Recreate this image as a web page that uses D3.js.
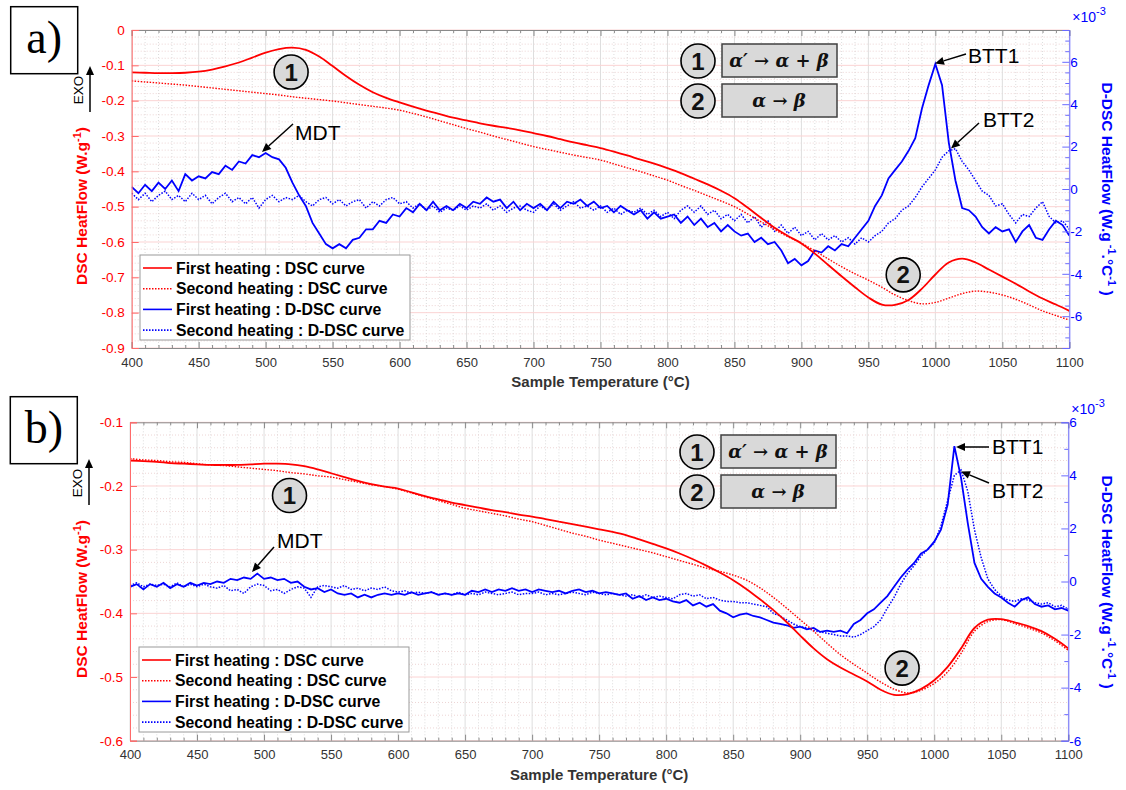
<!DOCTYPE html>
<html><head><meta charset="utf-8">
<script src="https://cdn.jsdelivr.net/npm/d3@7"></script>
<style>
body{margin:0;background:#fff}
svg{display:block}
text{font-family:"Liberation Sans",Arial,sans-serif}
</style>
</head><body>
<svg id="c" width="1126" height="790"></svg>
<script>
// ---------------- DATA ----------------
const xTicks = [400,450,500,550,600,650,700,750,800,850,900,950,1000,1050,1100];
const xTickLabels = ["400","450","500","550","600","650","700","750","800","850","900","950","1000","1050","1100"];

const leftTicksA = [0,-0.1,-0.2,-0.3,-0.4,-0.5,-0.6,-0.7,-0.8,-0.9];
const leftTickLabelsA = ["0","-0.1","-0.2","-0.3","-0.4","-0.5","-0.6","-0.7","-0.8","-0.9"];
const rightTicksA = [-6,-4,-2,0,2,4,6];
const rightTickLabelsA = ["-6","-4","-2","0","2","4","6"];

const leftTicksB = [-0.1,-0.2,-0.3,-0.4,-0.5,-0.6];
const leftTickLabelsB = ["-0.1","-0.2","-0.3","-0.4","-0.5","-0.6"];
const rightTicksB = [-6,-4,-2,0,2,4,6];
const rightTickLabelsB = ["-6","-4","-2","0","2","4","6"];

const legendLabels = ["First heating : DSC curve","Second heating : DSC curve","First heating : D-DSC curve","Second heating : D-DSC curve"];

// temperature grids (°C)
const dscTemps = d3.range(400, 1101, 10);   // 71 points
const ddscTemps = d3.range(400, 1101, 5);   // 141 points

// Panel a) DSC (W/g)
const dscFirstA = [-0.120,-0.121,-0.122,-0.122,-0.121,-0.118,-0.112,-0.103,-0.092,-0.078,
 -0.064,-0.054,-0.050,-0.056,-0.075,-0.102,-0.130,-0.155,-0.176,-0.192,
 -0.205,-0.217,-0.228,-0.238,-0.248,-0.256,-0.264,-0.271,-0.277,-0.284,
 -0.292,-0.300,-0.309,-0.318,-0.326,-0.334,-0.344,-0.355,-0.367,-0.378,
 -0.391,-0.405,-0.421,-0.437,-0.455,-0.476,-0.503,-0.532,-0.560,-0.583,
 -0.604,-0.633,-0.665,-0.697,-0.728,-0.757,-0.777,-0.778,-0.764,-0.732,
 -0.692,-0.658,-0.647,-0.658,-0.678,-0.698,-0.718,-0.740,-0.760,-0.777,-0.795];
const dscSecondA = [-0.144,-0.147,-0.150,-0.153,-0.156,-0.160,-0.164,-0.168,-0.172,-0.176,
 -0.180,-0.184,-0.189,-0.193,-0.197,-0.201,-0.206,-0.211,-0.216,-0.221,
 -0.227,-0.236,-0.246,-0.257,-0.268,-0.279,-0.289,-0.300,-0.310,-0.320,
 -0.330,-0.338,-0.346,-0.354,-0.361,-0.368,-0.379,-0.390,-0.401,-0.413,
 -0.425,-0.440,-0.454,-0.469,-0.484,-0.500,-0.521,-0.543,-0.565,-0.585,
 -0.603,-0.625,-0.648,-0.670,-0.690,-0.708,-0.728,-0.750,-0.766,-0.775,
 -0.771,-0.759,-0.746,-0.739,-0.742,-0.750,-0.762,-0.778,-0.795,-0.808,-0.821];

// Panel a) D-DSC (x1e-3 W/g/°C)
const ddscFirstA = [0.1,-0.2,0.2,-0.1,0.3,0.0,0.4,-0.1,0.7,0.4,
 0.6,0.5,0.8,0.7,1.1,0.9,1.3,1.2,1.6,1.5,
 1.7,1.5,1.4,1.0,0.3,-0.3,-0.8,-1.6,-2.1,-2.6,
 -2.8,-2.6,-2.8,-2.4,-2.3,-1.9,-1.9,-1.5,-1.6,-1.2,
 -1.3,-0.9,-1.1,-0.7,-1.0,-0.6,-1.0,-0.8,-1.0,-0.7,
 -0.9,-0.6,-0.7,-0.4,-0.6,-0.5,-0.9,-0.6,-1.0,-0.7,
 -0.9,-0.7,-1.0,-0.6,-0.9,-0.6,-0.7,-0.5,-0.8,-0.6,
 -0.9,-0.8,-1.1,-0.8,-1.0,-1.2,-1.0,-1.4,-1.1,-1.4,
 -1.3,-1.2,-1.6,-1.3,-1.7,-1.4,-1.8,-1.6,-2.0,-1.7,
 -2.0,-2.2,-2.1,-2.5,-2.3,-2.6,-2.5,-2.9,-3.5,-3.3,
 -3.6,-3.4,-2.9,-3.0,-2.7,-2.9,-2.6,-2.7,-2.3,-1.9,
 -1.5,-0.8,-0.3,0.5,0.9,1.3,1.8,2.4,3.8,4.9,
 5.9,4.9,2.2,0.4,-0.9,-1.0,-1.3,-1.8,-2.1,-1.8,
 -2.0,-1.9,-2.5,-2.0,-1.7,-2.3,-2.4,-1.9,-1.5,-1.7,-2.2];
const ddscSecondA = [-0.2,-0.5,-0.2,-0.6,-0.3,-0.1,-0.5,-0.3,-0.6,-0.2,
 -0.5,-0.3,-0.7,-0.4,-0.2,-0.6,-0.4,-0.7,-0.4,-0.9,
 -0.5,-0.3,-0.6,-0.4,-0.5,-0.3,-0.6,-0.8,-0.5,-0.4,
 -0.7,-0.5,-0.8,-0.6,-0.5,-0.9,-0.6,-0.8,-0.5,-0.4,
 -0.7,-0.6,-0.9,-0.7,-1.0,-0.8,-1.1,-0.9,-1.0,-0.8,
 -1.0,-0.8,-0.9,-0.7,-1.0,-0.8,-1.1,-0.9,-0.8,-1.0,
 -1.1,-0.8,-1.0,-0.7,-1.0,-0.8,-0.6,-0.9,-0.8,-1.0,
 -0.8,-1.1,-0.9,-1.2,-1.0,-1.1,-0.9,-1.2,-1.0,-1.3,
 -1.1,-1.4,-1.0,-0.8,-1.1,-0.8,-1.2,-1.0,-1.4,-1.2,
 -1.5,-1.2,-1.6,-1.3,-1.8,-1.5,-2.0,-1.7,-2.1,-1.8,
 -2.2,-2.0,-2.4,-2.1,-2.4,-2.2,-2.5,-2.3,-2.6,-2.3,
 -2.5,-2.2,-2.0,-1.6,-1.4,-1.0,-0.8,-0.4,0.1,0.5,
 0.9,1.5,1.8,1.9,1.3,0.9,0.4,-0.1,-0.3,-0.8,
 -0.7,-1.2,-1.6,-1.2,-1.3,-0.9,-0.6,-1.3,-1.6,-1.5,-1.9];

// Panel b) DSC (W/g)
const dscFirstB = [-0.160,-0.161,-0.162,-0.164,-0.165,-0.166,-0.167,-0.167,-0.167,-0.166,
 -0.165,-0.165,-0.166,-0.169,-0.174,-0.180,-0.186,-0.192,-0.197,-0.201,
 -0.204,-0.210,-0.216,-0.221,-0.226,-0.230,-0.234,-0.238,-0.241,-0.245,
 -0.248,-0.252,-0.256,-0.260,-0.264,-0.268,-0.272,-0.277,-0.284,-0.291,
 -0.298,-0.306,-0.315,-0.325,-0.336,-0.348,-0.362,-0.378,-0.395,-0.414,
 -0.435,-0.455,-0.472,-0.485,-0.496,-0.507,-0.520,-0.528,-0.527,-0.519,
 -0.505,-0.484,-0.455,-0.423,-0.410,-0.409,-0.414,-0.420,-0.428,-0.440,-0.455];
const dscSecondB = [-0.157,-0.159,-0.160,-0.162,-0.163,-0.165,-0.167,-0.168,-0.170,-0.172,
 -0.174,-0.176,-0.179,-0.181,-0.184,-0.186,-0.190,-0.194,-0.198,-0.201,
 -0.205,-0.211,-0.217,-0.223,-0.229,-0.235,-0.239,-0.243,-0.247,-0.252,
 -0.256,-0.262,-0.268,-0.274,-0.279,-0.285,-0.290,-0.295,-0.300,-0.305,
 -0.311,-0.317,-0.323,-0.329,-0.334,-0.340,-0.348,-0.360,-0.375,-0.392,
 -0.410,-0.428,-0.447,-0.465,-0.480,-0.494,-0.508,-0.519,-0.525,-0.521,
 -0.510,-0.492,-0.463,-0.428,-0.413,-0.410,-0.416,-0.423,-0.431,-0.443,-0.458];

// Panel b) D-DSC (x1e-3 W/g/°C)
const ddscFirstB = [-0.2,-0.1,-0.3,-0.1,-0.2,-0.05,-0.25,-0.1,-0.2,-0.05,
 -0.15,-0.05,-0.1,0.0,-0.05,0.1,0.05,0.15,0.1,0.3,
 0.1,0.15,0.05,0.1,-0.05,0.0,-0.2,-0.3,-0.25,-0.4,
 -0.3,-0.45,-0.5,-0.45,-0.6,-0.5,-0.6,-0.5,-0.45,-0.5,
 -0.45,-0.5,-0.4,-0.5,-0.45,-0.4,-0.5,-0.45,-0.5,-0.45,
 -0.5,-0.35,-0.4,-0.3,-0.4,-0.3,-0.35,-0.25,-0.35,-0.3,
 -0.4,-0.3,-0.35,-0.4,-0.35,-0.45,-0.35,-0.3,-0.4,-0.35,
 -0.45,-0.4,-0.45,-0.5,-0.45,-0.65,-0.55,-0.7,-0.6,-0.7,
 -0.65,-0.75,-0.8,-0.7,-0.9,-0.8,-0.95,-0.85,-1.1,-1.2,
 -1.35,-1.25,-1.2,-1.3,-1.35,-1.45,-1.55,-1.6,-1.65,-1.75,
 -1.7,-1.8,-1.75,-1.9,-1.85,-1.9,-1.85,-1.95,-1.6,-1.45,
 -1.2,-1.05,-0.8,-0.55,-0.2,0.15,0.45,0.7,1.05,1.2,
 1.5,1.95,2.9,5.1,3.9,2.2,0.7,0.1,-0.2,-0.45,
 -0.6,-0.8,-0.95,-0.7,-0.6,-0.85,-0.95,-0.9,-1.05,-1.0,-1.1];
const ddscSecondB = [-0.15,-0.05,-0.2,-0.1,-0.15,-0.1,-0.2,-0.05,-0.2,-0.1,
 -0.2,-0.1,-0.2,-0.25,-0.15,-0.35,-0.3,-0.45,-0.2,-0.1,
 -0.15,-0.35,-0.3,-0.45,-0.3,-0.2,-0.25,-0.6,-0.2,-0.15,
 -0.2,-0.25,-0.15,-0.3,-0.25,-0.35,-0.25,-0.3,-0.2,-0.35,
 -0.4,-0.35,-0.45,-0.4,-0.45,-0.4,-0.5,-0.45,-0.5,-0.4,
 -0.5,-0.45,-0.5,-0.4,-0.45,-0.5,-0.45,-0.4,-0.5,-0.45,
 -0.45,-0.4,-0.5,-0.45,-0.5,-0.45,-0.4,-0.45,-0.5,-0.4,
 -0.45,-0.5,-0.45,-0.5,-0.55,-0.5,-0.6,-0.5,-0.6,-0.55,
 -0.6,-0.65,-0.5,-0.45,-0.55,-0.5,-0.65,-0.6,-0.7,-0.75,
 -0.75,-0.8,-0.8,-0.85,-0.9,-0.95,-1.2,-1.3,-1.45,-1.6,
 -1.7,-1.75,-1.85,-1.9,-1.95,-2.0,-2.05,-2.05,-2.1,-2.0,
 -1.85,-1.7,-1.45,-1.0,-0.6,-0.1,0.3,0.6,0.95,1.2,
 1.45,2.1,3.05,4.0,4.2,3.4,1.95,0.9,0.1,-0.3,
 -0.55,-0.7,-0.75,-0.65,-0.7,-0.8,-0.85,-0.8,-0.95,-0.9,-1.05];

// ---------------- DRAW ----------------
const svg = d3.select("#c");
const RED = "#ff0000", BLUE = "#0000ff";

function zip(xs, ys){ return xs.map((x,i)=>[x, ys[i]]); }

function arrow(g, x1, y1, x2, y2){
  const ang = Math.atan2(y2-y1, x2-x1), L = 9, W = 4;
  const bx = x2 - L*Math.cos(ang), by = y2 - L*Math.sin(ang);
  g.append("line").attr("x1",x1).attr("y1",y1).attr("x2",bx).attr("y2",by)
    .attr("stroke","#000").attr("stroke-width",1.5);
  const px = -Math.sin(ang)*W, py = Math.cos(ang)*W;
  g.append("path").attr("d",`M${x2},${y2}L${bx+px},${by+py}L${bx-px},${by-py}Z`).attr("fill","#000");
}

function panel(cfg){
  const g = svg.append("g");
  const x = d3.scaleLinear([400,1100],[cfg.x0,cfg.x1]);
  const yL = d3.scaleLinear(cfg.leftDomain,[cfg.y1,cfg.y0]);
  const yR = d3.scaleLinear(cfg.rightDomain,[cfg.y1,cfg.y0]);

  // minor grid
  const vMinor = d3.range(400,1101,10).filter(t=>t%50!==0);
  g.append("g").selectAll("line").data(vMinor).join("line")
    .attr("x1",d=>x(d)).attr("x2",d=>x(d)).attr("y1",cfg.y0).attr("y2",cfg.y1)
    .attr("stroke","#d4d4d4").attr("stroke-width",0.8).attr("stroke-dasharray","1,2");
  const hMinor = d3.range(Math.round(cfg.leftDomain[0]*50), Math.round(cfg.leftDomain[1]*50)+1)
    .map(k=>k/50).filter(v=>Math.abs(Math.round(v*10)-v*10)>1e-6);
  g.append("g").selectAll("line").data(hMinor).join("line")
    .attr("x1",cfg.x0).attr("x2",cfg.x1).attr("y1",d=>yL(d)).attr("y2",d=>yL(d))
    .attr("stroke","#e8caca").attr("stroke-width",0.8).attr("stroke-dasharray","1,2");
  // major grid
  g.append("g").selectAll("line").data(cfg.xTicks).join("line")
    .attr("x1",d=>x(d)).attr("x2",d=>x(d)).attr("y1",cfg.y0).attr("y2",cfg.y1)
    .attr("stroke","#dedede").attr("stroke-width",1);
  g.append("g").selectAll("line").data(cfg.leftTicks).join("line")
    .attr("x1",cfg.x0).attr("x2",cfg.x1).attr("y1",d=>yL(d)).attr("y2",d=>yL(d))
    .attr("stroke","#fbd3d3").attr("stroke-width",1);

  // curves
  const lineL = d3.line().x(d=>x(d[0])).y(d=>yL(d[1])).curve(d3.curveCatmullRom.alpha(0.5));
  const lineR = d3.line().x(d=>x(d[0])).y(d=>yR(d[1]));
  const clipId = "clip"+cfg.id;
  svg.append("clipPath").attr("id",clipId).append("rect")
    .attr("x",cfg.x0).attr("y",cfg.y0).attr("width",cfg.x1-cfg.x0).attr("height",cfg.y1-cfg.y0);
  const cg = g.append("g").attr("clip-path",`url(#${clipId})`);
  cg.append("path").attr("d",lineR(zip(ddscTemps,cfg.ddsc2))).attr("fill","none")
    .attr("stroke",BLUE).attr("stroke-width",1.5).attr("stroke-dasharray","1.5,1.5");
  cg.append("path").attr("d",lineR(zip(ddscTemps,cfg.ddsc1))).attr("fill","none")
    .attr("stroke",BLUE).attr("stroke-width",1.8);
  cg.append("path").attr("d",lineL(zip(dscTemps,cfg.dsc2))).attr("fill","none")
    .attr("stroke",RED).attr("stroke-width",1.4).attr("stroke-dasharray","1.5,1.5");
  cg.append("path").attr("d",lineL(zip(dscTemps,cfg.dsc1))).attr("fill","none")
    .attr("stroke",RED).attr("stroke-width",1.8);

  // axes
  const fontTick = "13px";
  const xb = g.append("g").attr("transform",`translate(0,${cfg.y1})`)
    .call(d3.axisBottom(x).tickValues(cfg.xTicks).tickSize(-6).tickPadding(9.5)
      .tickFormat((d,i)=>cfg.xTickLabels[i]));
  xb.select(".domain").attr("stroke","#8a8a8a");
  xb.selectAll(".tick line").attr("stroke","#8a8a8a");
  xb.selectAll("text").attr("fill","#333").style("font-size",fontTick);
  const xbm = g.append("g").attr("transform",`translate(0,${cfg.y1})`)
    .call(d3.axisBottom(x).tickValues(vMinor).tickSize(-3).tickFormat(""));
  xbm.select(".domain").remove(); xbm.selectAll("line").attr("stroke","#8a8a8a");
  const xt = g.append("g").attr("transform",`translate(0,${cfg.y0})`)
    .call(d3.axisTop(x).tickValues(cfg.xTicks).tickSize(-6).tickFormat(""));
  xt.select(".domain").attr("stroke","#8a8a8a"); xt.selectAll("line").attr("stroke","#8a8a8a");
  const xtm = g.append("g").attr("transform",`translate(0,${cfg.y0})`)
    .call(d3.axisTop(x).tickValues(vMinor).tickSize(-3).tickFormat(""));
  xtm.select(".domain").remove(); xtm.selectAll("line").attr("stroke","#8a8a8a");

  const yl = g.append("g").attr("transform",`translate(${cfg.x0},0)`)
    .call(d3.axisLeft(yL).tickValues(cfg.leftTicks).tickSize(-7).tickPadding(7)
      .tickFormat((d,i)=>cfg.leftTickLabels[i]));
  yl.select(".domain").attr("stroke","#ff6a6a");
  yl.selectAll(".tick line").attr("stroke","#ff6a6a");
  yl.selectAll("text").attr("fill",RED).style("font-size","13.5px");

  const yr = g.append("g").attr("transform",`translate(${cfg.x1},0)`)
    .call(d3.axisRight(yR).tickValues(cfg.rightTicks).tickSize(-7).tickPadding(1)
      .tickFormat((d,i)=>cfg.rightTickLabels[i]));
  yr.select(".domain").attr("stroke","#6a6aff");
  yr.selectAll(".tick line").attr("stroke","#6a6aff");
  yr.selectAll("text").attr("fill",BLUE).style("font-size","13.5px");
  const rMinor = d3.range(cfg.rightDomain[0], cfg.rightDomain[1]+1e-9, cfg.rightMinor)
    .filter(v=>Math.abs(v/2-Math.round(v/2))>1e-6);
  const yrm = g.append("g").attr("transform",`translate(${cfg.x1},0)`)
    .call(d3.axisRight(yR).tickValues(rMinor).tickSize(-4).tickFormat(""));
  yrm.select(".domain").remove(); yrm.selectAll("line").attr("stroke","#6a6aff");

  // x10^-3
  const mx = g.append("text").attr("x",cfg.x1+3).attr("y",cfg.y0-8)
    .attr("fill",BLUE).style("font-size","14px");
  mx.append("tspan").text("\u00d710");
  mx.append("tspan").attr("dy",-7).style("font-size","11px").text("-3");

  // axis titles
  g.append("text").attr("x",(cfg.x0+cfg.x1)/2).attr("y",cfg.y1+39).attr("text-anchor","middle")
    .attr("fill","#333").style("font-size","15px").style("font-weight","bold")
    .text("Sample Temperature (\u00b0C)");
  const lt = g.append("text").attr("transform",`translate(${cfg.ltx},${cfg.lty}) rotate(-90)`)
    .attr("text-anchor","middle").attr("fill",RED).style("font-size","15.5px").style("font-weight","bold");
  lt.append("tspan").text("DSC HeatFlow (W.g");
  lt.append("tspan").attr("dy",-6).style("font-size","11px").text("-1");
  lt.append("tspan").attr("dy",6).text(")");
  const rt = g.append("text").attr("transform",`translate(${cfg.rtx},${cfg.rty}) rotate(90)`)
    .attr("text-anchor","middle").attr("fill",BLUE).style("font-size","15.5px").style("font-weight","bold");
  rt.append("tspan").text("D-DSC HeatFlow (W.g");
  rt.append("tspan").attr("dy",-6).style("font-size","11px").text(" -1");
  rt.append("tspan").attr("dy",6).text(".\u00b0C");
  rt.append("tspan").attr("dy",-6).style("font-size","11px").text("-1");
  rt.append("tspan").attr("dy",6).text(" )");

  // EXO arrow
  arrow(g, cfg.exoX, cfg.exoY+46, cfg.exoX, cfg.exoY);
  g.append("text").attr("transform",`translate(${cfg.exoX-7},${cfg.exoY+24}) rotate(-90)`)
    .attr("text-anchor","middle").attr("fill","#000").style("font-size","13.5px").text("EXO");

  // panel label
  g.append("rect").attr("x",cfg.lbx).attr("y",cfg.lby).attr("width",67).attr("height",67)
    .attr("fill","#fff").attr("stroke","#000").attr("stroke-width",1.5);
  g.append("text").attr("x",cfg.lbx+33.5).attr("y",cfg.lby+46).attr("text-anchor","middle")
    .style("font-family","'Liberation Serif','DejaVu Serif',serif").style("font-size","46px")
    .text(cfg.label);

  // legend
  const lg = g.append("g");
  lg.append("rect").attr("x",cfg.legX).attr("y",cfg.legY).attr("width",270).attr("height",85)
    .attr("fill","#fff").attr("stroke","#9a9a9a").attr("stroke-width",1);
  const styles = [{c:RED,d:null},{c:RED,d:"1.5,1.5"},{c:BLUE,d:null},{c:BLUE,d:"1.5,1.5"}];
  legendLabels.forEach((lab,i)=>{
    const yy = cfg.legY + 13 + i*20.7;
    lg.append("line").attr("x1",cfg.legX+3).attr("x2",cfg.legX+32).attr("y1",yy).attr("y2",yy)
      .attr("stroke",styles[i].c).attr("stroke-width",1.6).attr("stroke-dasharray",styles[i].d);
    lg.append("text").attr("x",cfg.legX+36).attr("y",yy+5.5).attr("fill","#000")
      .style("font-size","15.8px").style("font-weight","bold").text(lab);
  });

  // numbered circles on plot
  function circ(cx,cy,n){
    g.append("circle").attr("cx",cx).attr("cy",cy).attr("r",17)
      .attr("fill","#d9d9d9").attr("stroke","#000").attr("stroke-width",1.6);
    g.append("text").attr("x",cx).attr("y",cy+8.5).attr("text-anchor","middle")
      .style("font-size","24px").style("font-weight","bold").attr("fill","#111").text(n);
  }
  circ(x(cfg.c1[0]), yL(cfg.c1[1]), "1");
  circ(x(cfg.c2[0]), yL(cfg.c2[1]), "2");
  // key boxes
  circ(cfg.keyX, cfg.keyY, "1");
  circ(cfg.keyX, cfg.keyY+40, "2");
  const mathFont = "'DejaVu Serif','Liberation Serif',serif";
  [0,40].forEach((dy,i)=>{
    g.append("rect").attr("x",cfg.keyX+24).attr("y",cfg.keyY-17+dy).attr("width",115).attr("height",33)
      .attr("fill","#d9d9d9").attr("stroke","#404040").attr("stroke-width",1.5);
    const t = g.append("text").attr("x",cfg.keyX+81).attr("y",cfg.keyY+6+dy).attr("text-anchor","middle")
      .style("font-family",mathFont).style("font-size","18px").style("font-weight","bold").style("font-style","italic")
      .attr("fill","#111");
    if(i===0) t.text("\u03b1\u2032 \u2192 \u03b1 + \u03b2"); else t.text("\u03b1 \u2192 \u03b2");
  });

  // annotations
  cfg.notes.forEach(n=>{
    g.append("text").attr("x",n.tx).attr("y",n.ty).style("font-size","21px").attr("fill","#000").text(n.t);
    arrow(g, n.a[0], n.a[1], n.a[2], n.a[3]);
  });
}

panel({id:"a", label:"a)", x0:131.7, x1:1069.3, y0:30, y1:348,
  leftDomain:[-0.9,0], rightDomain:[-7.5,7.5], rightMinor:0.5,
  xTicks, xTickLabels, leftTicks:leftTicksA, leftTickLabels:leftTickLabelsA,
  rightTicks:rightTicksA, rightTickLabels:rightTickLabelsA,
  dsc1:dscFirstA, dsc2:dscSecondA, ddsc1:ddscFirstA, ddsc2:ddscSecondA,
  ltx:87, lty:206, rtx:1102, rty:189, exoX:90, exoY:66, lbx:10.7, lby:6.7,
  legX:140, legY:255, c1:[519,-0.119], c2:[976,-0.693], keyX:698, keyY:61,
  notes:[{t:"MDT",tx:295,ty:140,a:[293,124,262,152]},
         {t:"BTT1",tx:968,ty:63,a:[966,54,935,63.5]},
         {t:"BTT2",tx:983,ty:127,a:[979,123,951,148.5]}]
});
panel({id:"b", label:"b)", x0:130, x1:1068.3, y0:422.3, y1:740.7,
  leftDomain:[-0.6,-0.1], rightDomain:[-6,6], rightMinor:1,
  xTicks, xTickLabels, leftTicks:leftTicksB, leftTickLabels:leftTickLabelsB,
  rightTicks:rightTicksB, rightTickLabels:rightTickLabelsB,
  dsc1:dscFirstB, dsc2:dscSecondB, ddsc1:ddscFirstB, ddsc2:ddscSecondB,
  ltx:87, lty:599, rtx:1102, rty:582, exoX:89, exoY:459, lbx:10.3, lby:396.7,
  legX:139, legY:647, c1:[519,-0.215], c2:[976,-0.486], keyX:697, keyY:452,
  notes:[{t:"MDT",tx:277,ty:548,a:[274,547,252,572]},
         {t:"BTT1",tx:992,ty:454,a:[989,447,956,447]},
         {t:"BTT2",tx:992,ty:498,a:[989,483,961,471.5]}]
});
</script>
</body></html>
